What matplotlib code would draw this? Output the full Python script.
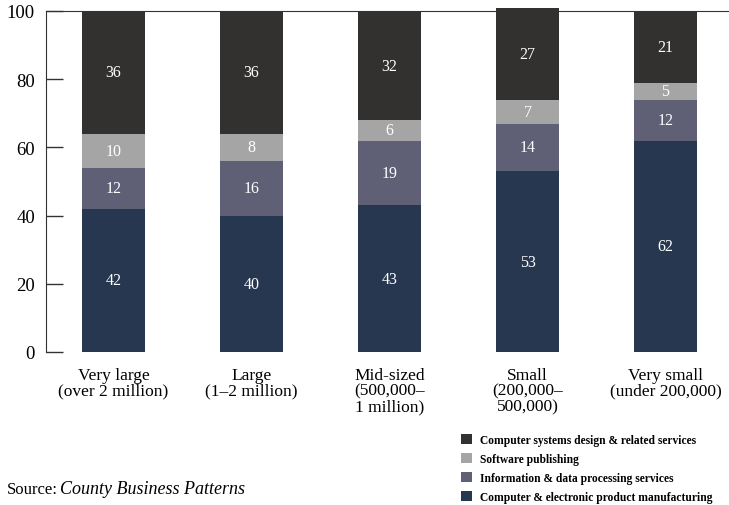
import matplotlib.pyplot as plt
from matplotlib.patches import Patch

plt.rcParams['font.family'] = ['Liberation Serif', 'DejaVu Serif']

categories = ['Very large\n(over 2 million)', 'Large\n(1–2 million)',
              'Mid-sized\n(500,000–\n1 million)', 'Small\n(200,000–\n500,000)',
              'Very small\n(under 200,000)']
series_names = ['Computer & electronic product manufacturing',
                'Information & data processing services',
                'Software publishing',
                'Computer systems design & related services']
manufacturing = [42, 40, 43, 53, 62]
info_services = [12, 16, 19, 14, 12]
software = [10, 8, 6, 7, 5]
design_services = [36, 36, 32, 27, 21]
yticks = [0, 20, 40, 60, 80, 100]

colors = ['#283750', '#5f6075', '#a5a5a5', '#333130']

fig = plt.figure(figsize=(7.29, 5.06), dpi=100)
ax = fig.add_axes([46 / 729, 1 - 353 / 506, 1 - 46 / 729, 341 / 506])

x = list(range(len(categories)))
bottoms = [0] * len(categories)
for values, color in zip([manufacturing, info_services, software, design_services], colors):
    ax.bar(x, values, bottom=bottoms, width=0.46, color=color, clip_on=False)
    for i, v in enumerate(values):
        ax.text(i, bottoms[i] + v / 2, str(v), ha='center', va='center',
                color='white', fontsize=11.5)
    bottoms = [b + v for b, v in zip(bottoms, values)]

ax.set_xlim(-0.49, 4.46)
ax.set_ylim(0, 100)
ax.set_yticks(yticks)
ax.tick_params(axis='y', direction='in', length=12, width=1, pad=8,
               labelsize=13.5, color='#333333')
ax.set_xticks(x)
ax.set_xticklabels(categories, fontsize=12.5, linespacing=0.95)
ax.tick_params(axis='x', length=0, pad=11)
ax.spines['right'].set_visible(False)
ax.spines['bottom'].set_visible(False)
ax.spines['left'].set_color('#333333')
ax.spines['top'].set_color('#333333')

handles = [Patch(facecolor=c) for c in colors[::-1]]
fig.legend(handles, series_names[::-1], loc='upper left',
           bbox_to_anchor=(461 / 729, 1 - 435 / 506), frameon=False,
           handlelength=0.95, handleheight=0.95, handletextpad=0.7,
           labelspacing=0.6, borderpad=0, borderaxespad=0,
           prop={'weight': 'bold', 'size': 8.3})

fig.text(7 / 729, 1 - 490 / 506, 'Source:', fontsize=12, va='center')
fig.text(60 / 729, 1 - 490 / 506, 'County Business Patterns', fontsize=13,
         va='center', style='italic')

fig.savefig('out.png', dpi=100)
